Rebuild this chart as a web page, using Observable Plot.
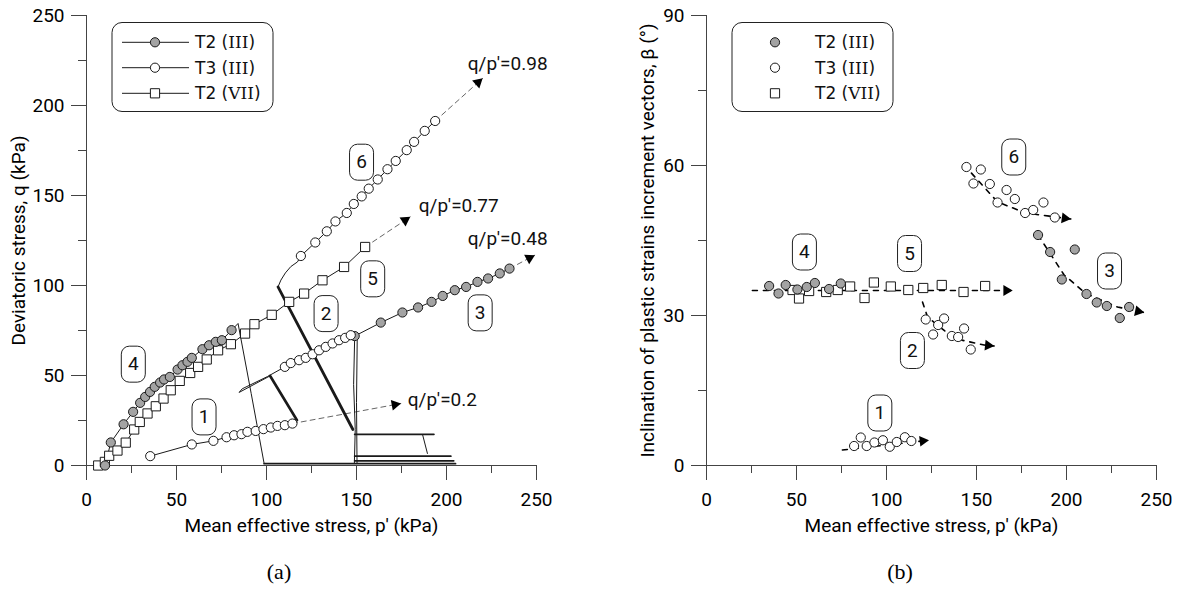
<!DOCTYPE html>
<html>
<head>
<meta charset="utf-8">
<script src="https://cdn.jsdelivr.net/npm/d3@7"></script>
<script src="https://cdn.jsdelivr.net/npm/@observablehq/plot@0.6"></script>
<style>
  body { margin: 0; background: #fff; }
  #fig { position: relative; width: 1177px; height: 589px; overflow: hidden; }
  .panel { position: absolute; top: 0; }
  .cap { position: absolute; top: 559px; font-family: "Liberation Serif", serif; font-size: 22px;
         line-height: 26px; transform: translateX(-50%); color: #000; }
</style>
</head>
<body>
<div id="fig">
  <div id="pa" class="panel" style="left:0px"></div>
  <div id="pb" class="panel" style="left:620px"></div>
  <div class="cap" style="left:279px">(a)</div>
  <div class="cap" style="left:900px">(b)</div>
</div>
<script>
// ---------------------------------------------------------------
// Series names and shared tick values
// ---------------------------------------------------------------
const SERIES = ["T2 (III)", "T3 (III)", "T2 (VII)"];
const X_MAJOR = [0, 50, 100, 150, 200, 250];
const X_MINOR = [25, 75, 125, 175, 225];
const QA_MAJOR = [0, 50, 100, 150, 200, 250];
const QA_MINOR = [25, 75, 125, 175, 225];
const BB_MAJOR = [0, 30, 60, 90];
const BB_MINOR = [15, 45, 75];
const STAGE_IDS = ["1", "2", "3", "4", "5", "6"];

// ---------------------------------------------------------------
// Panel (a): stress paths, [p' (kPa), q (kPa)]
// ---------------------------------------------------------------
const aT2iiiStage4 = [[10.3,0],[13.5,12.8],[20.6,22.9],[25.9,29.8],[29.8,34.8],[32.6,38.1],[35.3,40.9],
  [37.9,43.7],[40.9,46.1],[43.1,47.8],[46.3,49.2],[50.6,53.3],[53.3,55.7],[56.1,57.6],[58.5,59.8],
  [64.4,64.6],[68.1,66.8],[71.8,68.7],[75.2,69.6],[80.6,75.2]];
const aT2iiiStage3 = [[149,71.9],[163.5,79.4],[175.5,85],[184.2,87.8],[191.7,90.9],[197.9,94.2],
  [204.6,97.4],[210.9,99.2],[217.2,102],[223.1,103.9],[229.6,106.7],[235,109.4]];
const aT3iiiStage1 = [[35.4,5.2],[58.5,11.7],[70.5,13.7],[77.8,15.7],[82,16.8],[86.1,17.4],[89.4,18.7],
  [94,19.2],[98.3,20.2],[102.4,21.1],[106.1,22],[110.2,22.4],[114.4,23.3]];
const aT3iiiStage2 = [[110.2,54.8],[113.5,56.9],[118.1,58.5],[121.8,59.8],[125.6,61.8],[129.2,64],
  [132.9,65.9],[136.7,67.8],[140.3,69.6],[143.7,70.9],[146.8,72.4]];
const aT3iiiStage6 = [[119.1,116.4],[127.1,123.9],[133.5,130.1],[138.3,135.6],[144.6,140.3],[148.5,145.3],
  [152.9,149.5],[156.8,153.8],[161.8,158.9],[167.2,164.6],[171.8,169.2],[177.9,175.2],[182,179.8],
  [187.9,185.9],[193.7,191.4]];
const aT2viiStages45 = [[6.5,0],[10.2,2],[12.6,5.4],[17.2,8.3],[21.8,12.7],[26.5,20],[29.6,24.2],
  [33.9,28.9],[38.5,32.9],[42.8,37.2],[46.8,41.8],[51.8,47],[57.6,51.4],[62,54.8],[66.8,58.9],
  [73.1,64],[80.2,67.4],[88.1,73.3],[93.3,78.5],[102.9,83.7],[112.6,90.9],[120.9,95.5],[131.1,102.9],
  [143.1,110.3],[154.8,121.4]];

// recorded paths between the marked stages
const aThinTraces = [
  [[80.6,75.2],[84.2,78.9],[91.5,40],[98.7,1]],
  [[102,49.8],[84.8,40.6],[86.5,42.6],[100.5,49.4],[110.2,54.8]],
  [[106.4,99.2],[108,103],[110.5,107],[113.5,110.5],[117.2,113.1],[119.1,116.4]],
  [[149,71.9],[148.4,45],[149.3,20],[148.8,1]],
  [[150.4,70.5],[150,35],[150.3,1]],
  [[186.7,17.2],[189.4,6.7]]
];
const aBaseTraces = [
  [[98.7,1],[205,1]],
  [[149,2.6],[204,2.6]],
  [[149,5.2],[202.4,5.2]],
  [[149,17.3],[193,17.3]]
];
const aThickTraces = [
  [[114.4,23.3],[116.9,25.2],[102,49.8]],
  [[106.4,99.2],[148,20]]
];

// stress-ratio directions
const aRatioText = ["q/p'=0.98", "q/p'=0.77", "q/p'=0.48", "q/p'=0.2"];
const aRatioTextAt = [[211.8,222.9],[184.6,144],[211.8,125.7],[178.5,36.3]];
const aRatioArrows = [
  [[193.7,191.4],[220,215]],
  [[154.8,121.4],[179.8,138.1]],
  [[235,109.4],[249,116.8]],
  [[114.4,23.3],[174.6,34.4]]
];
const aStageTagAt = [[65.3,27],[133.1,84.4],[218.7,84.8],[26,56.3],[159,103.7],[152.8,168.5]];

// ---------------------------------------------------------------
// Panel (b): inclination of plastic strain increments, [p' (kPa), beta (deg)]
// ---------------------------------------------------------------
const bT2iiiStage4 = [[34.8,35.9],[40,34.4],[44,36.1],[50.5,35.2],[55.7,35.7],[60.2,36.5],[68.1,35.3],[74.6,36.4]];
const bT2iiiStage3 = [[184.2,46.1],[190.9,42.7],[197.4,37.2],[204.6,43.2],[211.1,34.3],[216.8,32.6],
  [222.4,31.9],[229.6,29.5],[234.8,31.7]];
const bT3iiiStage1 = [[82,3.9],[85.7,5.6],[89,3.9],[93.3,4.6],[98,5.05],[101.8,3.75],[105.7,4.7],[110.2,5.65],[113.8,4.9]];
const bT3iiiStage2 = [[121.8,29.2],[125.9,26.2],[128.7,28.1],[132,29.4],[136.3,25.9],[139.8,25.7],[143.1,27.4],[146.8,23.2]];
const bT3iiiStage6 = [[144.4,59.7],[148.3,56.4],[152.4,59.2],[157.4,56.3],[161.7,52.6],[166.7,55.1],
  [171.3,53.3],[177,50.5],[181.5,51.1],[187.2,52.6],[193.5,49.6]];
const bT2viiStages45 = [[47.8,35.1],[51.4,33.4],[57,34.9],[66.5,34.7],[72.9,35.1],[79.8,35.8],[87.8,33.5],
  [93,36.6],[102.4,35.8],[112.1,35.1],[120.4,35.5],[130.7,36.1],[142.8,34.7],[154.8,35.9]];
const bTrends = [
  [[25.5,35],[170,35]],
  [[75.5,3.1],[123.5,5.05]],
  [[120,32.7],[122.8,29.7],[137.6,25.4],[154.2,24.1],[159.8,23.9]],
  [[143.1,60.1],[161.7,52.7],[177.4,50.5],[202.4,49.3]],
  [[184.2,46.1],[198.7,38.1],[210.7,34.4],[228.3,31.7],[243.1,30.6]]
];
const bStageTagAt = [[96.3,10.5],[114.4,23],[223.9,38.9],[54.4,42.7],[112.8,42.4],[170.7,61.7]];

// ---------------------------------------------------------------
// Drawing helpers
// ---------------------------------------------------------------
const INK = "#1a1a1a", AXIS = "#444", GRAY = "#a3a3a3";
const PX = d => d[0], PY = d => d[1];
const PLOT_W = 450, PLOT_H = 450;

// rounded box used behind the stage numbers
const tagBox = {
  draw(ctx) {
    const w = 12, h = 18, r = 8;
    ctx.moveTo(-w + r, -h);
    ctx.lineTo(w - r, -h); ctx.arcTo(w, -h, w, -h + r, r);
    ctx.lineTo(w, h - r); ctx.arcTo(w, h, w - r, h, r);
    ctx.lineTo(-w + r, h); ctx.arcTo(-w, h, -w, h - r, r);
    ctx.lineTo(-w, -h + r); ctx.arcTo(-w, -h, -w + r, -h, r);
    ctx.closePath();
  }
};

// filled arrow heads at the end of each direction line (kx, ky in px per unit)
function headsOf(paths, kx, ky) {
  return paths.map(path => {
    const a = path[path.length - 2], b = path[path.length - 1];
    const sx = (b[0] - a[0]) * kx, sy = -(b[1] - a[1]) * ky;
    const len = Math.hypot(sx, sy), back = 6;
    return {x: b[0] - sx / len * back / kx, y: b[1] + sy / len * back / ky,
            angle: Math.atan2(sx, -sy) * 180 / Math.PI};
  });
}

function axes(yMajor, yMinor) {
  return [
    Plot.axisX({ticks: X_MAJOR, tickSize: 15, tickPadding: 12, label: null, stroke: AXIS}),
    Plot.axisX({ticks: X_MINOR, tickSize: 8, tickFormat: () => "", label: null, stroke: AXIS}),
    Plot.axisY({ticks: yMajor, tickSize: 15, tickPadding: 7, label: null, stroke: AXIS}),
    Plot.axisY({ticks: yMinor, tickSize: 8, tickFormat: () => "", label: null, stroke: AXIS}),
    Plot.ruleX([0], {stroke: AXIS}),
    Plot.ruleY([0], {stroke: AXIS})
  ];
}

function titles(xTitle, yTitle, yDx) {
  return [
    Plot.text([xTitle], {text: d => d, frameAnchor: "bottom", dy: 60, textAnchor: "middle",
                         lineAnchor: "middle", fill: "black"}),
    Plot.text([yTitle], {text: d => d, frameAnchor: "left", rotate: -90, dx: yDx, textAnchor: "middle",
                         lineAnchor: "middle", fill: "black"})
  ];
}

function tags(at) {
  return [
    Plot.dot(STAGE_IDS, {x: (d, i) => at[i][0], y: (d, i) => at[i][1], symbol: tagBox, r: 1,
                         fill: "white", stroke: "#222", strokeWidth: 1}),
    Plot.text(STAGE_IDS, {x: (d, i) => at[i][0], y: (d, i) => at[i][1], text: d => d,
                          fill: "#111", textAnchor: "middle", lineAnchor: "middle"})
  ];
}

const sq = (data) => Plot.dot(data, {x: PX, y: PY, symbol: "square", r: 5.2, fill: "white", stroke: INK, strokeWidth: 1});
const gc = (data) => Plot.dot(data, {x: PX, y: PY, r: 4.6, fill: GRAY, stroke: INK, strokeWidth: 1});
const oc = (data) => Plot.dot(data, {x: PX, y: PY, r: 4.6, fill: "white", stroke: INK, strokeWidth: 1});
const ln = (data, w = 1) => Plot.line(data, {x: PX, y: PY, stroke: INK, strokeWidth: w});

const commonStyle = {fontFamily: "Roboto, sans-serif", fontSize: "19px", background: "white", color: "black", overflow: "visible"};

// ---------------------------------------------------------------
// Panel (a)
// ---------------------------------------------------------------
const kA = PLOT_W / 250;
const plotA = Plot.plot({
  width: 588, height: 545, marginTop: 15, marginLeft: 86, marginRight: 52, marginBottom: 80,
  x: {domain: [0, 250]}, y: {domain: [0, 250]},
  style: commonStyle,
  marks: [
    ...axes(QA_MAJOR, QA_MINOR),
    ...aRatioArrows.map(p => Plot.line(p, {x: PX, y: PY, stroke: "#666", strokeWidth: 1, strokeDasharray: "5,4"})),
    Plot.dot(headsOf(aRatioArrows, kA, kA), {x: "x", y: "y", rotate: "angle", symbol: "triangle", r: 4, fill: "#000"}),
    ...aBaseTraces.map(p => ln(p, 1.8)),
    ...aThinTraces.map(p => ln(p, 1)),
    ...aThickTraces.map(p => ln(p, 2.8)),
    ln(aT2viiStages45), ln(aT2iiiStage4), ln(aT2iiiStage3),
    ln(aT3iiiStage1), ln(aT3iiiStage2), ln(aT3iiiStage6),
    sq(aT2viiStages45),
    gc(aT2iiiStage4), gc(aT2iiiStage3),
    oc(aT3iiiStage1), oc(aT3iiiStage2), oc(aT3iiiStage6),
    Plot.text(aRatioText, {x: (d, i) => aRatioTextAt[i][0], y: (d, i) => aRatioTextAt[i][1], text: d => d,
                           textAnchor: "start", lineAnchor: "middle", fill: "#111"}),
    ...tags(aStageTagAt),
    ...titles("Mean effective stress, p' (kPa)", "Deviatoric stress, q (kPa)", -68)
  ]
});

// ---------------------------------------------------------------
// Panel (b)
// ---------------------------------------------------------------
const kBx = PLOT_W / 250, kBy = PLOT_H / 90;
const plotB = Plot.plot({
  width: 557, height: 545, marginTop: 15, marginLeft: 86, marginRight: 21, marginBottom: 80,
  x: {domain: [0, 250]}, y: {domain: [0, 90]},
  style: commonStyle,
  marks: [
    ...axes(BB_MAJOR, BB_MINOR),
    ...bTrends.map(p => Plot.line(p, {x: PX, y: PY, stroke: "#000", strokeWidth: 1.6, strokeDasharray: "5,6"})),
    Plot.dot(headsOf(bTrends, kBx, kBy), {x: "x", y: "y", rotate: "angle", symbol: "triangle", r: 4, fill: "#000"}),
    sq(bT2viiStages45),
    gc(bT2iiiStage4), gc(bT2iiiStage3),
    oc(bT3iiiStage1), oc(bT3iiiStage2), oc(bT3iiiStage6),
    ...tags(bStageTagAt),
    ...titles("Mean effective stress, p' (kPa)", "Inclination of plastic strains increment vectors, β (°)", -59)
  ]
});

document.getElementById("pa").append(plotA);
document.getElementById("pb").append(plotB);

// ---------------------------------------------------------------
// Legends (boxed, top-left of each panel)
// ---------------------------------------------------------------
function addLegend(svgNode, withLines) {
  const g = d3.select(svgNode).append("g").attr("class", "legend");
  g.append("rect").attr("x", 112).attr("y", 22.5).attr("width", 161).attr("height", 89)
    .attr("rx", 10).attr("fill", "white").attr("stroke", "#222").attr("stroke-width", 1);
  const styles = [
    {type: d3.symbolCircle, r: 4.6, fill: GRAY},
    {type: d3.symbolCircle, r: 4.6, fill: "white"},
    {type: d3.symbolSquare, r: 5.2, fill: "white"}
  ];
  const rowY = [42.3, 67.7, 93.3];
  SERIES.forEach((name, i) => {
    const y = rowY[i];
    if (withLines) {
      g.append("line").attr("x1", 122).attr("x2", 189).attr("y1", y).attr("y2", y)
        .attr("stroke", INK).attr("stroke-width", 1);
    }
    g.append("path")
      .attr("d", d3.symbol(styles[i].type, styles[i].r * styles[i].r * Math.PI)())
      .attr("transform", `translate(155,${y})`)
      .attr("fill", styles[i].fill).attr("stroke", INK).attr("stroke-width", 1);
    const m = name.match(/^(.*\()([IVX]+)(\))$/);
    const t = g.append("text").attr("x", 195).attr("y", y).attr("dy", "0.36em")
      .attr("text-anchor", "start")
      .attr("font-family", "'DejaVu Sans', sans-serif").attr("font-size", 17).attr("fill", "#111");
    t.append("tspan").text(m[1]);
    t.append("tspan").attr("font-family", "'DejaVu Serif', serif").text(m[2]);
    t.append("tspan").text(m[3]);
  });
}
addLegend(plotA, true);
addLegend(plotB, false);
</script>
</body>
</html>
